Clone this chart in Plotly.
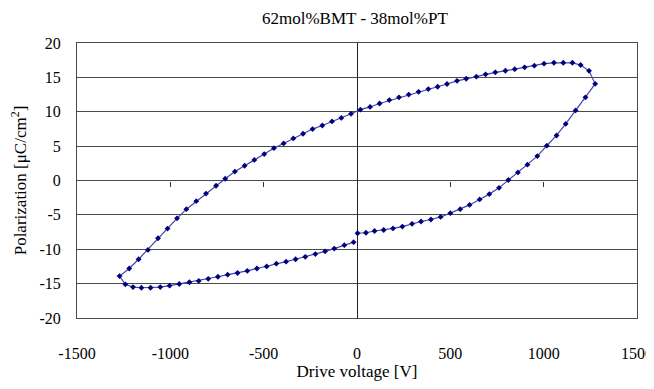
import plotly.graph_objects as go

# Branch 1: rising lower branch, from 0 V to positive tip
v_rise = [3, 48, 94, 143, 193, 243, 295, 343, 396, 448, 500, 553, 603, 657, 709, 761,
          811, 862, 913, 966, 1017, 1069, 1118, 1171, 1224, 1276]
p_rise = [-7.67, -7.6, -7.35, -7.2, -6.97, -6.7, -6.3, -5.97, -5.67, -5.3, -4.75, -4.17,
          -3.55, -2.75, -1.98, -1.07, 0.08, 1.18, 2.3, 3.55, 5.07, 6.55, 8.23, 10.2, 12.1, 14.06]

# Branch 2: upper branch, from positive tip to negative tip
v_upper = [1243, 1198, 1154, 1105, 1055, 1002, 950, 898, 845, 795, 741, 689, 639, 585, 536,
           482, 432, 382, 330, 277, 225, 173, 121, 70, 18, -32, -84, -134, -186, -238, -289,
           -341, -393, -445, -497, -550, -602, -654, -706, -755, -809, -861, -914, -964,
           -1015, -1066, -1120, -1170, -1220, -1272]
p_upper = [15.95, 16.8, 17.12, 17.12, 17.12, 17.0, 16.7, 16.46, 16.2, 15.97, 15.73, 15.44,
           15.1, 14.8, 14.5, 14.03, 13.64, 13.3, 12.9, 12.5, 12.1, 11.7, 11.2, 10.7, 10.3,
           9.7, 9.1, 8.6, 8.0, 7.48, 6.8, 6.12, 5.4, 4.7, 3.84, 3.0, 2.14, 1.3, 0.25, -0.77,
           -1.9, -3.0, -4.17, -5.5, -6.99, -8.4, -10.1, -11.45, -12.8, -13.9]

# Branch 3: lower branch, from negative tip back towards 0 V
v_lower = [-1241, -1200, -1155, -1106, -1054, -1004, -952, -898, -848, -797, -745, -693,
           -640, -588, -536, -484, -432, -380, -329, -277, -223, -171, -122, -68, -18]
p_lower = [-15.1, -15.5, -15.6, -15.6, -15.5, -15.3, -15.05, -14.8, -14.6, -14.3, -14.0,
           -13.7, -13.45, -13.15, -12.8, -12.5, -12.1, -11.8, -11.45, -11.1, -10.7, -10.3,
           -9.9, -9.4, -8.97]

x_ticks = [-1500, -1000, -500, 0, 500, 1000, 1500]
y_ticks = [20, 15, 10, 5, 0, -5, -10, -15, -20]

voltage = v_rise + v_upper + v_lower
polarization = p_rise + p_upper + p_lower

FONT = "Liberation Serif"
GRID = "#4a4a4a"

fig = go.Figure()
fig.add_trace(go.Scatter(
    x=voltage, y=polarization, mode="lines+markers",
    line=dict(color="#4545a5", width=1.2),
    marker=dict(symbol="diamond", size=4.5, color="#000080"),
    showlegend=False, hoverinfo="skip",
))
# invisible trace to carry the tick axis at y=0
fig.add_trace(go.Scatter(x=[0], y=[0], xaxis="x2", mode="markers",
                         marker=dict(opacity=0), showlegend=False, hoverinfo="skip"))

# page body has an 8px margin (top/left), figure sized so nothing scrolls
fig.update_layout(
    width=646, height=373,
    margin=dict(l=69, r=17, t=35, b=63),
    paper_bgcolor="white", plot_bgcolor="white",
    font=dict(family=FONT, size=16, color="black"),
    title=dict(text="62mol%BMT - 38mol%PT", x=0.537, xanchor="center",
               y=0.973, yanchor="middle", font=dict(family=FONT, size=17, color="black")),
    xaxis=dict(
        range=[-1500, 1500], tickvals=x_ticks, ticktext=[str(t) for t in x_ticks],
        showgrid=False, zeroline=True, zerolinecolor="#222", zerolinewidth=1,
        showline=True, linecolor=GRID, linewidth=1, mirror=True,
        ticks="", ticklabelstandoff=21, automargin=False, ticklabeloverflow="allow",
        title=dict(text="Drive voltage [V]", standoff=8, font=dict(family=FONT, size=17)),
        tickfont=dict(family=FONT, size=16),
    ),
    xaxis2=dict(
        range=[-1500, 1500], overlaying="x", anchor="free", position=0.5,
        tickvals=[t for t in x_ticks if t not in (-1500, 1500)],
        ticks="outside", ticklen=5, tickcolor="#333", tickwidth=1,
        showticklabels=False, showgrid=False, zeroline=False, showline=False,
    ),
    yaxis=dict(
        range=[-20, 20], tickvals=y_ticks, ticktext=[str(t) for t in y_ticks],
        showgrid=True, gridcolor=GRID, gridwidth=1, zeroline=False,
        showline=True, linecolor=GRID, linewidth=1, mirror=True,
        ticks="", ticklabelstandoff=12, automargin=False,
        title=dict(text="Polarization [μC/cm<sup>2</sup>]", standoff=17,
                   font=dict(family=FONT, size=17)),
        tickfont=dict(family=FONT, size=16),
    ),
)

fig.write_html("out.html")
